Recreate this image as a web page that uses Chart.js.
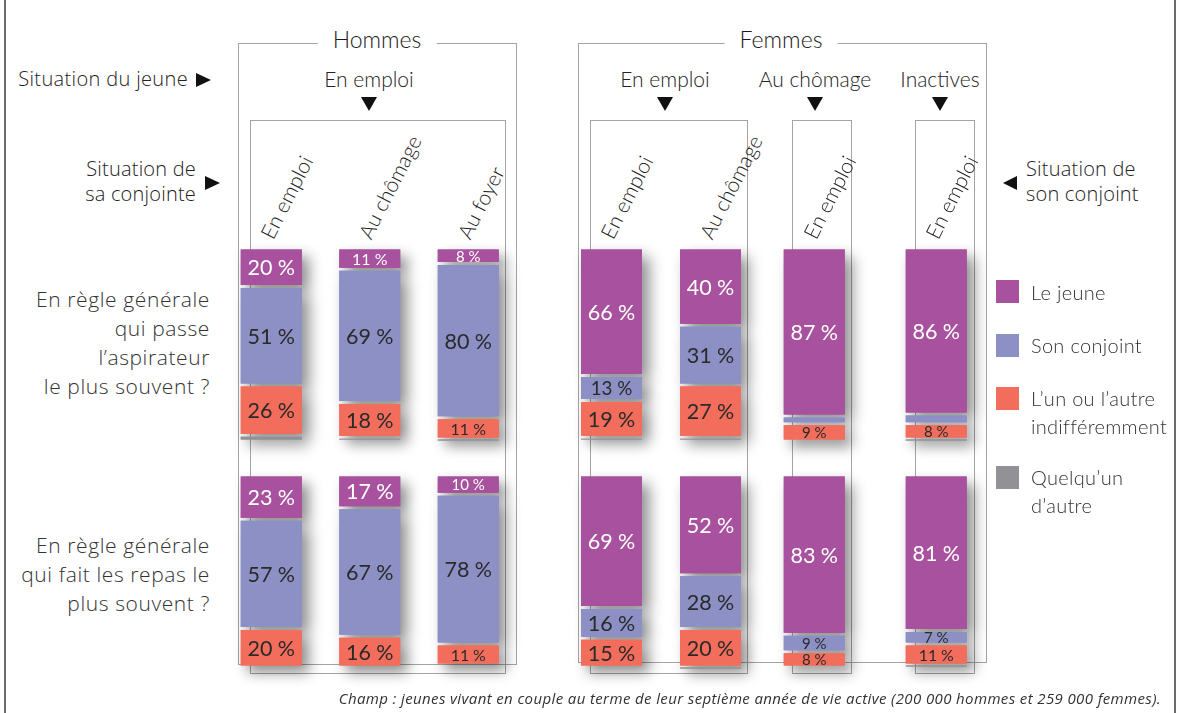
<!DOCTYPE html>
<html><head><meta charset="utf-8">
<script src="https://cdn.jsdelivr.net/npm/chart.js@4.4.1/dist/chart.umd.min.js"></script>
<style>
html,body{margin:0;padding:0;background:#fff;}
#root{position:relative;width:1182px;height:713px;overflow:hidden;font-family:Lato,"Open Sans",sans-serif;color:#222;}
.box{position:absolute;border:1.5px solid #a4a4a4;box-sizing:border-box;z-index:1;}
.txt{position:absolute;z-index:3;white-space:nowrap;font-weight:300;}
.os{font-family:"Open Sans",Lato,sans-serif;font-weight:300;}
.title{position:absolute;z-index:3;background:#fff;font-size:23px;line-height:28px;padding:0 15px;transform:translate(-50%,-50%);white-space:nowrap;font-weight:300;color:#1a1a1a;}
.ctr{transform:translateX(-50%);}
.tri-d{position:absolute;z-index:3;width:0;height:0;border-left:8.5px solid transparent;border-right:8.5px solid transparent;border-top:14px solid #111;}
.tri-r{position:absolute;z-index:3;width:0;height:0;border-top:7.5px solid transparent;border-bottom:7.5px solid transparent;border-left:15px solid #111;}
.tri-l{position:absolute;z-index:3;width:0;height:0;border-top:7.5px solid transparent;border-bottom:7.5px solid transparent;border-right:14px solid #111;}
canvas{position:absolute;z-index:2;}
.collab{position:absolute;z-index:3;font-size:21px;line-height:24px;font-weight:300;white-space:nowrap;transform-origin:0 50%;transform:rotate(-63deg);color:#1a1a1a;}
.sq{position:absolute;width:23px;height:23px;z-index:3;}
.vline{position:absolute;top:0;height:713px;background:#6b6b6b;}
</style>
</head><body>
<div id="root">
  <div class="vline" style="left:4px;width:2px;"></div>
  <div class="vline" style="left:1174px;width:1.5px;"></div>

  <!-- frames -->
  <div class="box" style="left:238px;top:43px;width:279px;height:622px;"></div>
  <div class="box" style="left:250px;top:120px;width:256px;height:554px;"></div>
  <div class="box" style="left:578px;top:43px;width:409px;height:620px;"></div>
  <div class="box" style="left:590px;top:120px;width:158px;height:554px;"></div>
  <div class="box" style="left:792px;top:120px;width:60px;height:554px;"></div>
  <div class="box" style="left:915px;top:120px;width:60px;height:554px;"></div>

  <div class="title" style="left:377px;top:39px;">Hommes</div>
  <div class="title" style="left:781px;top:39px;">Femmes</div>

  <div class="txt os" style="right:994px;top:66px;font-size:20px;line-height:26px;letter-spacing:0.35px;">Situation du jeune</div>
  <div class="tri-r" style="left:196px;top:73px;"></div>

  <div class="txt ctr" style="left:369px;top:66px;font-size:21px;line-height:26px;">En emploi</div>
  <div class="tri-d" style="left:361px;top:97px;"></div>
  <div class="txt ctr" style="left:665px;top:66px;font-size:21px;line-height:26px;">En emploi</div>
  <div class="tri-d" style="left:657px;top:97px;"></div>
  <div class="txt ctr" style="left:815px;top:66px;font-size:21px;line-height:26px;">Au chômage</div>
  <div class="tri-d" style="left:807px;top:97px;"></div>
  <div class="txt ctr" style="left:940px;top:66px;font-size:21px;line-height:26px;">Inactives</div>
  <div class="tri-d" style="left:932px;top:97px;"></div>

  <div class="txt os" style="right:986px;top:156px;font-size:20px;line-height:25px;text-align:right;letter-spacing:0.2px;">Situation de<br>sa conjointe</div>
  <div class="tri-r" style="left:205px;top:176px;"></div>
  <div class="tri-l" style="left:1003px;top:176px;"></div>
  <div class="txt os" style="left:1026px;top:156px;font-size:20px;line-height:25px;letter-spacing:0.2px;">Situation de<br>son conjoint</div>

  <div class="txt os" style="right:972px;top:285px;font-size:21px;line-height:29px;text-align:right;color:#333;letter-spacing:0.6px;">En règle générale<br>qui passe<br>l’aspirateur<br>le plus souvent ?</div>
  <div class="txt os" style="right:972px;top:531px;font-size:21px;line-height:29px;text-align:right;color:#333;letter-spacing:0.6px;">En règle générale<br>qui fait les repas le<br>plus souvent ?</div>

  <div id="legend"></div>

  <div class="txt os" style="right:21px;top:689px;font-size:15px;line-height:19px;font-style:italic;font-weight:400;color:#333;letter-spacing:0.38px;">Champ : jeunes vivant en couple au terme de leur septième année de vie active (200 000 hommes et 259 000 femmes).</div>
</div>
<script>
// ---- Data ----
const sexes = ['Hommes','Hommes','Hommes','Femmes','Femmes','Femmes','Femmes'];
const situationJeune = ['En emploi','En emploi','En emploi','En emploi','En emploi','Au chômage','Inactives'];
const situationConjoint = ['En emploi','Au chômage','Au foyer','En emploi','Au chômage','En emploi','En emploi'];
const seriesNames = ['Le jeune','Son conjoint','L’un ou l’autre indifféremment','Quelqu’un d’autre'];
const legendLines = [['Le jeune'],['Son conjoint'],['L’un ou l’autre','indifféremment'],['Quelqu’un','d’autre']];
const questions = ['En règle générale qui passe l’aspirateur le plus souvent ?','En règle générale qui fait les repas le plus souvent ?'];

const aspirateurJeune     = [20, 11,  8, 66, 40, 87, 86];
const aspirateurConjoint  = [51, 69, 80, 13, 31,  4,  5];
const aspirateurUnOuAutre = [26, 18, 11, 19, 27,  9,  8];
const aspirateurAutre     = [ 3,  2,  1,  2,  2,  0,  1];

const repasJeune     = [23, 17, 10, 69, 52, 83, 81];
const repasConjoint  = [57, 67, 78, 16, 28,  9,  7];
const repasUnOuAutre = [20, 16, 11, 15, 20,  8, 11];
const repasAutre     = [ 0,  0,  0,  0,  1,  0,  1];

const rowsData = [
  [aspirateurJeune, aspirateurConjoint, aspirateurUnOuAutre, aspirateurAutre],
  [repasJeune, repasConjoint, repasUnOuAutre, repasAutre]
];

// ---- Styles / layout ----
const colors = ['#a8519e','#8c90c4','#f26d5b','#929296'];
const labelColors = ['#ffffff','#2a2a2a','#2a2a2a',null];
const groupLeft = [222.25, 562, 765.25, 887.25];
const groupCatW = [98.5, 99, 98.5, 98.5];
const rowTop = [247.5, 474.5];
const rowH = [193, 192];
const PADL = 8, PADR = 30, PADB = 30, PADT = 4;

// legend
(function(){
  const lg = document.getElementById('legend');
  const sqTop = [280, 334, 387, 466];
  const txtTop = [278, 331, 384, 463];
  seriesNames.forEach((n, i) => {
    const s = document.createElement('div');
    s.className = 'sq'; s.style.left = '996px'; s.style.top = sqTop[i] + 'px'; s.style.background = colors[i];
    lg.appendChild(s);
    const t = document.createElement('div');
    t.className = 'txt'; t.style.left = '1031px'; t.style.top = txtTop[i] + 'px';
    t.style.fontSize = '20px'; t.style.lineHeight = '28px'; t.style.color = '#333';
    t.style.letterSpacing = '0.3px';
    t.innerHTML = legendLines[i].join('<br>');
    lg.appendChild(t);
  });
})();

// group columns by consecutive (sex, situation du jeune)
const groups = [];
sexes.forEach((s, i) => {
  const key = s + '|' + situationJeune[i];
  if (!groups.length || groups[groups.length-1].key !== key) groups.push({key, idx: []});
  groups[groups.length-1].idx.push(i);
});

const shadowPlugin = {
  id: 'shadowPlugin',
  beforeDatasetsDraw(chart) {
    const ctx = chart.ctx;
    ctx.save();
    ctx.shadowColor = 'rgba(0,0,0,0.45)';
    ctx.shadowBlur = 14;
    ctx.shadowOffsetX = 7;
    ctx.shadowOffsetY = 7;
    chart.getSortedVisibleDatasetMetas().forEach(meta => {
      const ds = chart.data.datasets[meta.index];
      meta.data.forEach((el, i) => {
        if (ds.data[i] == null) return;
        el.draw(ctx);
      });
    });
    ctx.restore();
  }
};
const labelPlugin = {
  id: 'segLabels',
  afterDatasetsDraw(chart) {
    const ctx = chart.ctx;
    chart.data.datasets.forEach((ds, di) => {
      if (!ds.labelColor) return;
      const meta = chart.getDatasetMeta(di);
      meta.data.forEach((el, i) => {
        const v = ds.data[i];
        if (v == null || v < 6) return;
        const h = Math.abs(el.base - el.y);
        const size = Math.max(15, Math.min(21.5, h * 0.75));
        ctx.save();
        ctx.font = '400 ' + size + 'px Lato, "Open Sans", sans-serif';
        ctx.fillStyle = ds.labelColor;
        ctx.textAlign = 'center';
        ctx.textBaseline = 'middle';
        ctx.fillText(v + ' %', el.x, (el.y + el.base) / 2 + 1);
        ctx.restore();
      });
    });
  }
};

const root = document.getElementById('root');
const charts = [];
rowsData.forEach((rowSeries, r) => {
  groups.forEach((g, gi) => {
    const cv = document.createElement('canvas');
    const w = g.idx.length * groupCatW[gi];
    cv.width = Math.round(w + PADL + PADR);
    cv.height = Math.round(rowH[r] + PADT + PADB);
    cv.style.left = (groupLeft[gi] - PADL) + 'px';
    cv.style.top = (rowTop[r] - PADT) + 'px';
    root.appendChild(cv);
    const datasets = rowSeries.map((arr, si) => ({
      label: seriesNames[si],
      data: g.idx.map(i => arr[i] === 0 ? null : arr[i]),
      backgroundColor: colors[si],
      borderWidth: 0,
      inflateAmount: -1.5,
      barThickness: 64,
      labelColor: labelColors[si],
      clip: false
    }));
    const ch = new Chart(cv, {
      type: 'bar',
      data: { labels: g.idx.map(i => situationConjoint[i]), datasets },
      options: {
        responsive: false,
        animation: false,
        events: [],
        layout: { padding: { left: PADL, right: PADR + (cv.width - (w + PADL + PADR)), top: PADT, bottom: PADB + (cv.height - (rowH[r] + PADT + PADB)) } },
        plugins: { legend: { display: false }, tooltip: { enabled: false } },
        scales: {
          x: { stacked: true, display: false, offset: true },
          y: { stacked: true, display: false, min: 0, max: 100, reverse: true }
        }
      },
      plugins: [shadowPlugin, labelPlugin]
    });
    charts.push({ch, r, gi, g, left: groupLeft[gi] - PADL, top: rowTop[r] - PADT});
  });
});

// rotated column labels placed at each column from chart positions
charts.filter(c => c.r === 0).forEach(c => {
  const meta = c.ch.getDatasetMeta(0);
  c.g.idx.forEach((colIdx, k) => {
    const el = meta.data[k];
    const cx = c.left + el.x;
    const d = document.createElement('div');
    d.className = 'collab';
    d.textContent = situationConjoint[colIdx];
    d.style.left = (cx - 6) + 'px';
    d.style.top = (237 - 12) + 'px';
    root.appendChild(d);
  });
});
</script>
</body></html>
